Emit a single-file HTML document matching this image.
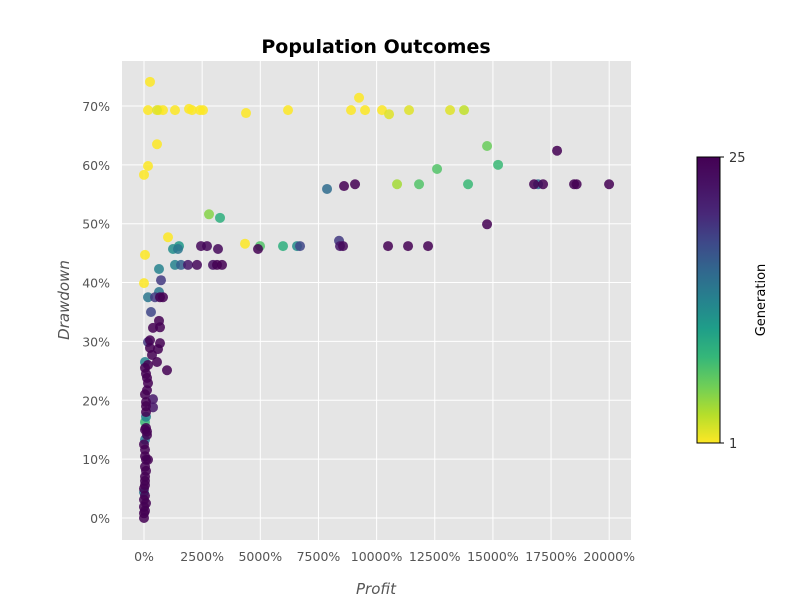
<!DOCTYPE html>
<html><head><meta charset="utf-8"><style>
body{margin:0;background:#fff;font-family:"DejaVu Sans","Liberation Sans",sans-serif}
svg{display:block}
</style></head><body>
<svg id="chart" width="800" height="600" xmlns="http://www.w3.org/2000/svg" font-family="DejaVu Sans, Liberation Sans, sans-serif">
<defs>
<linearGradient id="vir" x1="0" y1="1" x2="0" y2="0">
<stop offset="0" stop-color="#fde725"/><stop offset="0.1" stop-color="#b5de2b"/><stop offset="0.2" stop-color="#6ece58"/><stop offset="0.3" stop-color="#35b779"/><stop offset="0.4" stop-color="#1f9e89"/><stop offset="0.5" stop-color="#26828e"/><stop offset="0.6" stop-color="#31688e"/><stop offset="0.7" stop-color="#3e4989"/><stop offset="0.8" stop-color="#482878"/><stop offset="0.9" stop-color="#471365"/><stop offset="1" stop-color="#440154"/>
</linearGradient>
</defs>
<rect x="122" y="61" width="509" height="479" fill="#e5e5e5"/>
<g id="grid"></g>
<g id="points"></g>
<g id="ticks"></g>
<text x="376" y="53" text-anchor="middle" font-size="19" font-weight="bold" fill="#000">Population Outcomes</text>
<text x="376" y="594" text-anchor="middle" font-size="15" font-style="italic" fill="#555">Profit</text>
<text transform="translate(69,300) rotate(-90)" text-anchor="middle" font-size="15" font-style="italic" fill="#555">Drawdown</text>
<rect x="697" y="157" width="23" height="286" fill="url(#vir)" stroke="#000" stroke-width="1"/>
<line x1="720" y1="157" x2="724" y2="157" stroke="#000"/>
<line x1="720" y1="443" x2="724" y2="443" stroke="#000"/>
<text x="729" y="162" font-size="13" fill="#333">25</text>
<text x="729" y="448" font-size="13" fill="#333">1</text>
<text transform="translate(765,300) rotate(-90)" text-anchor="middle" font-size="13" fill="#000">Generation</text>
</svg>
<script>
const profit=[258,172,559,645,817,1333,1935,2064,2408,2537,4386,6192,8901,9245,9503,10234,10535,11395,13158,13760,559,172,0,43,0,1032,2795,3268,
1247,1505,1462,2451,2709,3182,4343,4988,4902,5977,6579,6708,8385,8428,8557,
1333,1591,1892,2279,2967,3139,3354,
645,731,172,473,645,688,817,301,
645,387,688,172,258,688,258,602,344,559,172,43,989,
129,172,129,387,387,86,86,86,43,86,129,43,43,86,172,43,43,43,0,0,0,0,0,
17759,14749,15222,12599,10879,11825,13932,16770,16942,17157,18490,18600,19995,14749,10492,11352,12212,7869,8600,9073,
43,86,43,86,43,0,43,86,43,0,43,86,129,43];
const drawdown=[74.1,69.3,69.3,69.3,69.3,69.3,69.5,69.3,69.3,69.3,68.8,69.3,69.3,71.4,69.3,69.3,68.6,69.3,69.3,69.3,63.5,59.8,58.3,44.7,39.9,47.7,51.6,51.0,
45.7,46.2,45.7,46.2,46.2,45.7,46.6,46.2,45.7,46.2,46.2,46.2,47.1,46.2,46.2,
43.0,43.0,43.0,43.0,43.0,43.0,43.0,
42.3,40.4,37.5,37.5,38.4,37.5,37.5,35.0,
33.5,32.3,32.4,29.9,30.2,29.7,28.9,28.7,27.7,26.5,26.0,26.5,25.1,
23.8,22.9,21.7,20.2,18.8,19.7,18.0,17.2,16.3,15.3,14.1,13.3,11.6,9.9,9.9,8.7,7.0,5.6,4.4,3.1,1.9,0.8,0,
62.4,63.2,60.0,59.3,56.7,56.7,56.7,56.7,56.7,56.7,56.7,56.7,56.7,49.9,46.2,46.2,46.2,55.9,56.4,56.7,
25.5,24.5,21.0,19.0,15.0,12.5,10.5,8.0,6.3,5.0,3.8,2.5,14.7,1.2];
const generation=[1,1,2,1,1,1,1,1,1,1,1,1,1,1,1,1,2,2,2,3,1,1,1,1,1,1,5,9,
12,11,14,24,24,24,1,7,25,9,12,18,19,22,24,
13,16,22,24,23,25,25,
13,19,14,19,14,25,25,18,
25,25,25,19,25,25,25,25,25,25,25,13,25,
25,25,25,22,22,25,25,13,8,25,25,14,25,25,25,25,25,25,14,25,25,25,25,
25,6,8,7,4,7,8,25,15,25,25,25,25,25,25,25,25,15,25,25,
25,25,25,25,25,25,25,25,25,25,25,25,25,25];
const xTicks=[0,2500,5000,7500,10000,12500,15000,17500,20000];
const yTicks=[0,10,20,30,40,50,60,70];

const NS="http://www.w3.org/2000/svg";
const X=v=>144+v*58.15/2500;
const Y=v=>518-v*5.886;
const vir=[[253,231,37],[181,222,43],[110,206,88],[53,183,121],[31,158,137],[38,130,142],[49,104,142],[62,73,137],[72,40,120],[71,19,101],[68,1,84]];
function color(g){const t=(g-1)/24*10;const i=Math.min(9,Math.floor(t));const f=t-i;const a=vir[i],b=vir[i+1];
return`rgb(${a.map((c,k)=>Math.round(c+(b[k]-c)*f)).join(',')})`;}
function mk(tag,attrs){const e=document.createElementNS(NS,tag);for(const k in attrs)e.setAttribute(k,attrs[k]);return e;}
const grid=document.getElementById('grid'),ticks=document.getElementById('ticks'),pts=document.getElementById('points');
xTicks.forEach(v=>{
  const l=mk('line',{x1:X(v),x2:X(v),y1:61,y2:540,stroke:'#fff','stroke-width':1});
  
  
  grid.appendChild(l);
  const t=mk('text',{x:X(v),y:561,'text-anchor':'middle','font-size':12.5,fill:'#555'});
  t.textContent=v+'%';
  
  
  ticks.appendChild(t);
});
yTicks.forEach(v=>{
  const l=mk('line',{x1:122,x2:631,y1:Y(v),y2:Y(v),stroke:'#fff','stroke-width':1});
  
  
  grid.appendChild(l);
  const t=mk('text',{x:110,y:Y(v)+5,'text-anchor':'end','font-size':12.5,fill:'#555'});
  t.textContent=v+'%';
  
  
  ticks.appendChild(t);
});
const idx=profit.map((_,i)=>i).sort((a,b)=>generation[a]-generation[b]);
idx.forEach(i=>{
  const c=mk('circle',{cx:X(profit[i]),cy:Y(drawdown[i]),r:5,fill:color(generation[i]),'fill-opacity':0.85});
  
  
  pts.appendChild(c);
});
</script>
</body></html>
